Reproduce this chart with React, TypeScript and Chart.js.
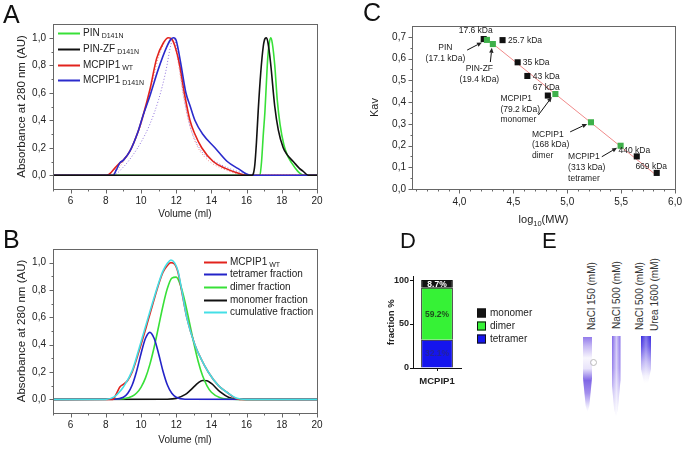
import React, { useEffect, useRef } from "react";
import { Chart, registerables } from "chart.js";

Chart.register(...registerables);

const FONT = "'Liberation Sans', Arial, Helvetica, sans-serif";
const INK = "#222";
const FRAME = "#666";
Chart.defaults.font.family = FONT;
Chart.defaults.color = INK;

// ---------------- Panel A : elution profiles ----------------
const aPinX = [5, 16.6, 16.76, 16.85, 16.95, 17.04, 17.12, 17.2, 17.3, 17.38, 17.46, 17.6, 17.74, 17.9, 18.12, 18.3, 18.56, 18.9, 19.1, 19.3, 20];
const aPinY = [0, 0, 0.005, 0.1, 0.3, 0.46, 0.66, 0.85, 0.97, 1.0, 0.96, 0.8, 0.55, 0.37, 0.22, 0.15, 0.09, 0.03, 0.008, 0, 0];
const aZfX = [5, 16.3, 16.38, 16.47, 16.56, 16.66, 16.8, 16.95, 17.05, 17.13, 17.22, 17.36, 17.6, 17.8, 18.08, 18.3, 18.65, 19.0, 19.2, 19.5, 20];
const aZfY = [0, 0, 0.01, 0.08, 0.24, 0.47, 0.74, 0.94, 0.995, 1.0, 0.96, 0.82, 0.5, 0.33, 0.2, 0.15, 0.1, 0.05, 0.03, 0, 0];
const aWtX = [5, 8.05, 8.3, 8.5, 8.8, 9.0, 9.37, 9.84, 10.13, 10.5, 10.89, 11.26, 11.55, 11.75, 11.95, 12.2, 12.46, 12.78, 13.06, 13.45, 14.1, 14.8, 15.4, 16.0, 20];
const aWtY = [0, 0, 0.02, 0.05, 0.09, 0.11, 0.175, 0.32, 0.44, 0.62, 0.85, 0.96, 1.0, 0.99, 0.93, 0.8, 0.6, 0.4, 0.3, 0.2, 0.1, 0.05, 0.02, 0, 0];
const aMutX = [5, 8.42, 8.6, 8.8, 9.0, 9.37, 9.84, 10.13, 10.5, 10.98, 11.45, 11.7, 11.85, 12.0, 12.25, 12.55, 12.8, 13.06, 13.5, 14.2, 14.9, 15.5, 16.2, 20];
const aMutY = [0, 0, 0.04, 0.09, 0.11, 0.175, 0.32, 0.44, 0.575, 0.77, 0.93, 0.99, 1.0, 0.98, 0.82, 0.6, 0.5, 0.4, 0.3, 0.2, 0.1, 0.05, 0, 0];
const aDotMutX = [5, 8.4, 9.0, 9.5, 10.0, 10.5, 11.0, 11.4, 11.7, 11.85, 12.1, 12.4, 12.7, 13.1, 13.6, 14.2, 15.0, 16.0, 16.5, 20];
const aDotMutY = [0, 0, 0.06, 0.14, 0.24, 0.37, 0.55, 0.75, 0.95, 1.0, 0.86, 0.6, 0.4, 0.25, 0.15, 0.1, 0.05, 0.01, 0, 0];
const aDotWtX = [5, 8.2, 9.0, 10.0, 10.5, 11.0, 11.4, 11.7, 12.0, 12.4, 12.8, 13.2, 13.8, 14.6, 15.5, 16.0, 20];
const aDotWtY = [0, 0, 0.1, 0.37, 0.6, 0.86, 0.98, 1.0, 0.9, 0.58, 0.35, 0.21, 0.11, 0.05, 0.01, 0, 0];

// ---------------- Panel B : deconvolution ----------------
const bWtX = [5, 8.4, 8.6, 8.8, 9.0, 9.25, 9.5, 10.0, 10.5, 11.0, 11.25, 11.5, 11.7, 11.9, 12.1, 12.3, 12.6, 13.06, 13.4, 13.82, 14.4, 14.9, 15.2, 15.6, 20];
const bWtY = [0, 0, 0.04, 0.09, 0.11, 0.14, 0.2, 0.4, 0.62, 0.84, 0.93, 0.98, 1.0, 0.99, 0.93, 0.8, 0.6, 0.4, 0.3, 0.2, 0.1, 0.05, 0.02, 0, 0];
const bTetX = [5, 8.5, 9.0, 9.25, 9.5, 9.75, 10.0, 10.25, 10.5, 10.75, 11.0, 11.25, 11.5, 11.75, 12.0, 12.5, 20];
const bTetY = [0, 0.001, 0.015, 0.044, 0.105, 0.206, 0.334, 0.445, 0.49, 0.445, 0.334, 0.206, 0.105, 0.044, 0.015, 0.001, 0];
const bDimX = [5, 8.5, 9.0, 9.5, 9.75, 10.0, 10.25, 10.5, 10.75, 11.0, 11.25, 11.5, 11.75, 12.0, 12.25, 12.5, 12.75, 13.0, 13.25, 13.5, 13.75, 14.0, 14.5, 15.0, 15.5, 20];
const bDimY = [0, 0.001, 0.004, 0.022, 0.046, 0.088, 0.155, 0.254, 0.383, 0.533, 0.685, 0.812, 0.887, 0.894, 0.832, 0.713, 0.565, 0.412, 0.277, 0.172, 0.099, 0.052, 0.011, 0.002, 0, 0];
const bMonX = [5, 11.5, 12.0, 12.5, 12.75, 13.0, 13.25, 13.5, 13.75, 14.0, 14.5, 15.0, 15.5, 16.0, 20];
const bMonY = [0, 0.001, 0.007, 0.034, 0.06, 0.091, 0.121, 0.138, 0.136, 0.116, 0.054, 0.014, 0.002, 0, 0];
const bCumX = [5, 8.0, 8.5, 8.75, 9.0, 9.5, 10.0, 10.5, 11.0, 11.25, 11.5, 11.7, 11.9, 12.1, 12.3, 12.6, 13.06, 13.4, 13.82, 14.4, 14.9, 15.4, 16.0, 20];
const bCumY = [0, 0, 0.02, 0.05, 0.09, 0.21, 0.42, 0.64, 0.85, 0.94, 0.995, 1.02, 1.0, 0.94, 0.81, 0.6, 0.4, 0.3, 0.2, 0.1, 0.05, 0.01, 0, 0];

const abXTicks = [6, 8, 10, 12, 14, 16, 18, 20];
const abXMinor = [5, 7, 9, 11, 13, 15, 17, 19];
const abYTicks = [0, 0.2, 0.4, 0.6, 0.8, 1.0];
const abYMinor = [0.1, 0.3, 0.5, 0.7, 0.9];

// ---------------- Panel C : calibration ----------------
const cStdLabels = ["17.6 kDa", "25.7 kDa", "35 kDa", "43 kDa", "67 kDa", "440 kDa", "669 kDa"];
const cStdLogMW = [4.225, 4.4, 4.54, 4.63, 4.82, 5.645, 5.83];
const cStdKav = [0.69, 0.685, 0.583, 0.52, 0.43, 0.15, 0.074];
const cSampleLabels = [["PIN", "(17.1 kDa)"], ["PIN-ZF", "(19.4 kDa)"], ["MCPIP1", "(79.2 kDa)", "monomer"], ["MCPIP1", "(168 kDa)", "dimer"], ["MCPIP1", "(313 kDa)", "tetramer"]];
const cSampleLogMW = [4.255, 4.31, 4.89, 5.22, 5.495];
const cSampleKav = [0.686, 0.667, 0.437, 0.307, 0.199];
const cFitX = [4.25, 5.82];
const cFitY = [0.692, 0.066];
const cXTicks = [4.0, 4.5, 5.0, 5.5, 6.0];
const cXMinor = [3.6, 3.7, 3.8, 3.9, 4.1, 4.2, 4.3, 4.4, 4.6, 4.7, 4.8, 4.9, 5.1, 5.2, 5.3, 5.4, 5.6, 5.7, 5.8, 5.9];
const cYTicks = [0, 0.1, 0.2, 0.3, 0.4, 0.5, 0.6, 0.7];
const cYMinor = [0.05, 0.15, 0.25, 0.35, 0.45, 0.55, 0.65];

// ---------------- Panel D : fractions ----------------
const dCategories = ["MCPIP1"];
const dTetramer = [32.1];
const dDimer = [59.2];
const dMonomer = [8.7];
const dYTicks = [0, 50, 100];

// ---------------- helpers ----------------
const pts = (xs: number[], ys: number[]) => xs.map((x, i) => ({ x, y: ys[i] }));
const comma = (v: number) => v.toFixed(1).replace(".", ",");
const fixedTicks = (vals: number[]) => (scale: any) => {
  scale.ticks = vals.map((v) => ({ value: v }));
};

function curve(label: string, xs: number[], ys: number[], color: string, order: number, dotted = false) {
  return {
    label,
    data: pts(xs, ys),
    borderColor: color,
    borderWidth: dotted ? 1 : 1.6,
    borderDash: dotted ? [1, 2] : [],
    pointRadius: 0,
    fill: false,
    cubicInterpolationMode: "monotone",
    order,
  };
}

function framePlugin(xMajor: number[], xMinor: number[], yMajor: number[], yMinor: number[]) {
  return {
    id: "frameTicks",
    afterDraw(chart: any) {
      const { ctx, chartArea: a } = chart;
      const sx = chart.scales.x;
      const sy = chart.scales.y;
      const L = Math.round(a.left) + 0.5;
      const T = Math.round(a.top) + 0.5;
      const R = Math.round(a.right) + 0.5;
      const B = Math.round(a.bottom) + 0.5;
      ctx.save();
      ctx.strokeStyle = FRAME;
      ctx.lineWidth = 1;
      ctx.strokeRect(L, T, R - L, B - T);
      ctx.beginPath();
      const xt = (v: number, len: number) => {
        const p = Math.round(sx.getPixelForValue(v)) + 0.5;
        ctx.moveTo(p, B);
        ctx.lineTo(p, B + len);
      };
      const yt = (v: number, len: number) => {
        const p = Math.round(sy.getPixelForValue(v)) + 0.5;
        ctx.moveTo(L, p);
        ctx.lineTo(L - len, p);
      };
      xMajor.forEach((v) => xt(v, 4));
      xMinor.forEach((v) => xt(v, 2));
      yMajor.forEach((v) => yt(v, 4));
      yMinor.forEach((v) => yt(v, 2));
      ctx.stroke();
      ctx.restore();
    },
  };
}

type LegItem = { text: string; sub?: string; color: string };
function lineLegend(items: LegItem[], x0: number, x1: number, tx: number, y0: number, dy: number) {
  return {
    id: "lineLegend",
    afterDraw(chart: any) {
      const ctx = chart.ctx;
      ctx.save();
      items.forEach((it, i) => {
        const y = Math.round(y0 + i * dy) + 0.5;
        ctx.strokeStyle = it.color;
        ctx.lineWidth = 2;
        ctx.beginPath();
        ctx.moveTo(x0, y);
        ctx.lineTo(x1, y);
        ctx.stroke();
        ctx.fillStyle = INK;
        ctx.textAlign = "left";
        ctx.textBaseline = "middle";
        ctx.font = `10px ${FONT}`;
        ctx.fillText(it.text, tx, y);
        if (it.sub) {
          const w = ctx.measureText(it.text).width;
          ctx.font = `7px ${FONT}`;
          ctx.fillText(it.sub, tx + w + 2, y + 3);
        }
      });
      ctx.restore();
    },
  };
}

function xAxisAB(height: number, titlePad: number) {
  return {
    type: "linear",
    min: 5,
    max: 20,
    afterBuildTicks: fixedTicks(abXTicks),
    afterFit: (s: any) => {
      s.height = height;
    },
    grid: { display: false, tickLength: 4 },
    border: { display: false },
    ticks: { font: { size: 10 }, color: INK, padding: 2, autoSkip: false, maxRotation: 0, callback: (v: number) => String(v) },
    title: { display: true, text: "Volume (ml)", font: { size: 10 }, color: INK, padding: { top: 0, bottom: titlePad } },
  };
}

function yAxisAB() {
  return {
    type: "linear",
    min: -0.1,
    max: 1.1,
    afterBuildTicks: fixedTicks(abYTicks),
    afterFit: (s: any) => {
      s.width = 53;
    },
    grid: { display: false, tickLength: 4 },
    border: { display: false },
    ticks: { font: { size: 10 }, color: INK, padding: 3, autoSkip: false, callback: (v: number) => comma(v) },
    title: { display: true, text: "Absorbance at 280 nm (AU)", font: { size: 11.5 }, color: INK, padding: { top: 15, bottom: 0 } },
  };
}

const baseOpts = {
  responsive: false,
  animation: false,
  devicePixelRatio: 1,
  plugins: { legend: { display: false }, tooltip: { enabled: false } },
};

// ---------------- chart factories ----------------
const aSeries = [
  { text: "PIN", sub: "D141N", color: "#38e038" },
  { text: "PIN-ZF", sub: "D141N", color: "#111111" },
  { text: "MCPIP1", sub: "WT", color: "#e2231d" },
  { text: "MCPIP1", sub: "D141N", color: "#2b2bcc" },
];

function makeA(): any {
  return {
    type: "line",
    data: {
      datasets: [
        curve("PIN-ZF D141N", aZfX, aZfY, aSeries[1].color, 0),
        curve("MCPIP1 D141N", aMutX, aMutY, aSeries[3].color, 1),
        curve("MCPIP1 WT", aWtX, aWtY, aSeries[2].color, 2),
        curve("PIN D141N", aPinX, aPinY, aSeries[0].color, 3),
        curve("MCPIP1 D141N (dotted)", aDotMutX, aDotMutY, "#8f72dc", 4, true),
        curve("MCPIP1 WT (dotted)", aDotWtX, aDotWtY, "#f08c8c", 5, true),
      ],
    },
    options: {
      ...baseOpts,
      layout: { padding: { left: 0, top: 24, right: 13, bottom: 0 } },
      scales: { x: xAxisAB(31, 0), y: yAxisAB() },
    },
    plugins: [framePlugin(abXTicks, abXMinor, abYTicks, abYMinor), lineLegend(aSeries, 58, 80, 83, 33.3, 15.6)],
  };
}

const bSeries = [
  { text: "MCPIP1", sub: "WT", color: "#e2231d" },
  { text: "tetramer fraction", color: "#2323c8" },
  { text: "dimer fraction", color: "#38e038" },
  { text: "monomer fraction", color: "#111111" },
  { text: "cumulative fraction", color: "#44dfe6" },
];

function makeB(): any {
  return {
    type: "line",
    data: {
      datasets: [
        curve("cumulative fraction", bCumX, bCumY, bSeries[4].color, 0),
        curve("MCPIP1 WT", bWtX, bWtY, bSeries[0].color, 1),
        curve("tetramer fraction", bTetX, bTetY, bSeries[1].color, 2),
        curve("dimer fraction", bDimX, bDimY, bSeries[2].color, 3),
        curve("monomer fraction", bMonX, bMonY, bSeries[3].color, 4),
      ],
    },
    options: {
      ...baseOpts,
      layout: { padding: { left: 0, top: 29, right: 13, bottom: 0 } },
      scales: { x: xAxisAB(36, 3), y: yAxisAB() },
    },
    plugins: [framePlugin(abXTicks, abXMinor, abYTicks, abYMinor), lineLegend(bSeries, 204, 227, 230, 41.7, 12.65)],
  };
}

// annotation layout for panel C (pixel offsets from the point)
const cStdNoteLayout = [
  { dx: -8, dy: -8, align: "center" },
  { dx: 5.5, dy: 0.7, align: "left" },
  { dx: 5, dy: 0, align: "left" },
  { dx: 5.5, dy: 0.5, align: "left" },
  { dx: -1.5, dy: -7.5, align: "center" },
  { dx: -2.5, dy: -5.5, align: "center" },
  { dx: -5.5, dy: -6.5, align: "center" },
];
const cSampleNoteLayout = [
  { dx: -41.5, dy: 8, lh: 10.6, align: "center", a0: [-19.8, 10.2], a1: [-5, 2.5] },
  { dx: -13.5, dy: 24.6, lh: 11.5, align: "center", a0: [-2.5, 18], a1: [-1, 3.8] },
  { dx: -55, dy: 4.5, lh: 10.8, align: "left", a0: [-17, 21], a1: [-3.6, 3] },
  { dx: -59, dy: 12, lh: 10.5, align: "left", a0: [-20.8, 9.6], a1: [-3.8, 1.6] },
  { dx: -52.5, dy: 11, lh: 11, align: "left", a0: [-18.8, 11], a1: [-3.5, 2] },
];

function arrow(ctx: any, x0: number, y0: number, x1: number, y1: number) {
  const ang = Math.atan2(y1 - y0, x1 - x0);
  const hl = 5;
  const hw = 2.2;
  const bx = x1 - hl * Math.cos(ang);
  const by = y1 - hl * Math.sin(ang);
  ctx.beginPath();
  ctx.moveTo(x0, y0);
  ctx.lineTo(bx, by);
  ctx.stroke();
  ctx.beginPath();
  ctx.moveTo(x1, y1);
  ctx.lineTo(bx + hw * Math.sin(ang), by - hw * Math.cos(ang));
  ctx.lineTo(bx - hw * Math.sin(ang), by + hw * Math.cos(ang));
  ctx.closePath();
  ctx.fill();
}

const cNotesPlugin = {
  id: "cNotes",
  afterDraw(chart: any) {
    const { ctx, chartArea: a } = chart;
    const sx = chart.scales.x;
    const sy = chart.scales.y;
    ctx.save();
    ctx.fillStyle = INK;
    ctx.strokeStyle = "#111";
    ctx.lineWidth = 1;
    ctx.textBaseline = "middle";
    ctx.font = `8.5px ${FONT}`;
    cStdLabels.forEach((t, i) => {
      const L = cStdNoteLayout[i];
      const px = sx.getPixelForValue(cStdLogMW[i]);
      const py = sy.getPixelForValue(cStdKav[i]);
      ctx.textAlign = L.align;
      ctx.fillText(t, px + L.dx, py + L.dy);
    });
    cSampleLabels.forEach((lines, i) => {
      const L = cSampleNoteLayout[i];
      const px = sx.getPixelForValue(cSampleLogMW[i]);
      const py = sy.getPixelForValue(cSampleKav[i]);
      ctx.textAlign = L.align;
      lines.forEach((t, j) => ctx.fillText(t, px + L.dx, py + L.dy + j * L.lh));
      arrow(ctx, px + L.a0[0], py + L.a0[1], px + L.a1[0], py + L.a1[1]);
    });
    // x axis title with subscript
    const cx = (a.left + a.right) / 2;
    const cy = 220;
    ctx.font = `11px ${FONT}`;
    const w1 = ctx.measureText("log").width;
    const w3 = ctx.measureText("(MW)").width;
    ctx.font = `7.5px ${FONT}`;
    const w2 = ctx.measureText("10").width;
    const start = cx - (w1 + w2 + w3) / 2;
    ctx.textAlign = "left";
    ctx.font = `11px ${FONT}`;
    ctx.fillText("log", start, cy);
    ctx.fillText("(MW)", start + w1 + w2, cy);
    ctx.font = `7.5px ${FONT}`;
    ctx.fillText("10", start + w1, cy + 3.5);
    ctx.restore();
  },
};

function makeC(): any {
  return {
    type: "scatter",
    data: {
      datasets: [
        {
          label: "samples",
          data: pts(cSampleLogMW, cSampleKav),
          pointStyle: "rect",
          pointRadius: 4.3,
          backgroundColor: "#3fb04a",
          borderColor: "#3fb04a",
          borderWidth: 0,
          order: 0,
        },
        {
          label: "standards",
          data: pts(cStdLogMW, cStdKav),
          pointStyle: "rect",
          pointRadius: 4.3,
          backgroundColor: "#111",
          borderColor: "#111",
          borderWidth: 0,
          order: 1,
        },
        {
          label: "fit",
          data: pts(cFitX, cFitY),
          showLine: true,
          pointRadius: 0,
          borderColor: "#f08a8a",
          borderWidth: 1,
          order: 2,
        },
      ],
    },
    options: {
      ...baseOpts,
      layout: { padding: { left: 0, top: 26, right: 9, bottom: 0 } },
      scales: {
        x: {
          type: "linear",
          min: 3.56,
          max: 6.0,
          afterBuildTicks: fixedTicks(cXTicks),
          afterFit: (s: any) => {
            s.height = 41;
          },
          grid: { display: false, tickLength: 4 },
          border: { display: false },
          ticks: { font: { size: 10 }, color: INK, padding: 3, autoSkip: false, maxRotation: 0, callback: (v: number) => comma(v) },
        },
        y: {
          type: "linear",
          min: 0,
          max: 0.75,
          afterBuildTicks: fixedTicks(cYTicks),
          afterFit: (s: any) => {
            s.width = 52;
          },
          grid: { display: false, tickLength: 4 },
          border: { display: false },
          ticks: { font: { size: 10 }, color: INK, padding: 2, autoSkip: false, callback: (v: number) => comma(v) },
          title: { display: true, text: "Kav", font: { size: 11 }, color: INK, padding: { top: 8, bottom: 0 } },
        },
      },
    },
    plugins: [framePlugin(cXTicks, cXMinor, cYTicks, cYMinor), cNotesPlugin],
  };
}

const dSeries = [
  { label: "tetramer", data: dTetramer, color: "#1515ee", textColor: "#23239a" },
  { label: "dimer", data: dDimer, color: "#36f236", textColor: "#1d4f1d" },
  { label: "monomer", data: dMonomer, color: "#141414", textColor: "#ffffff" },
];

const dPlugin = {
  id: "dDecor",
  afterDatasetsDraw(chart: any) {
    const ctx = chart.ctx;
    ctx.save();
    ctx.textAlign = "center";
    ctx.textBaseline = "middle";
    ctx.font = `bold 8.5px ${FONT}`;
    dSeries.forEach((s, i) => {
      const meta = chart.getDatasetMeta(i);
      meta.data.forEach((el: any, j: number) => {
        ctx.fillStyle = s.textColor;
        ctx.fillText(s.data[j].toFixed(1) + "%", el.x, (el.y + el.base) / 2 + 0.5);
      });
    });
    // legend (monomer, dimer, tetramer from top)
    const order = [2, 1, 0];
    order.forEach((idx, k) => {
      const y = 77 + k * 13;
      ctx.fillStyle = dSeries[idx].color;
      ctx.fillRect(107, y - 4.5, 9, 9);
      ctx.strokeStyle = "#111";
      ctx.lineWidth = 1;
      ctx.strokeRect(107.5, y - 4, 8, 8);
      ctx.fillStyle = INK;
      ctx.textAlign = "left";
      ctx.font = `10px ${FONT}`;
      ctx.fillText(dSeries[idx].label, 120, y);
    });
    ctx.restore();
  },
};

function makeD(): any {
  return {
    type: "bar",
    data: {
      labels: dCategories,
      datasets: dSeries.map((s) => ({
        label: s.label,
        data: s.data,
        backgroundColor: s.color,
        borderColor: "#111",
        borderWidth: 1,
        barPercentage: 1,
        categoryPercentage: 0.66,
      })),
    },
    options: {
      ...baseOpts,
      layout: { padding: { left: 0, top: 40.5, right: 89, bottom: 0 } },
      scales: {
        x: {
          stacked: true,
          afterFit: (s: any) => {
            s.height = 30;
          },
          grid: { display: true, drawOnChartArea: false, offset: false, tickLength: 3, color: "#111" },
          border: { display: true, color: "#111" },
          ticks: { font: { size: 9.5, weight: "bold" }, color: INK, padding: 5 },
        },
        y: {
          stacked: true,
          min: 0,
          max: 104,
          afterBuildTicks: fixedTicks(dYTicks),
          afterFit: (s: any) => {
            s.width = 43;
          },
          grid: { display: true, drawOnChartArea: false, tickLength: 3, color: "#111" },
          border: { display: true, color: "#111" },
          ticks: { font: { size: 9, weight: "bold" }, color: INK, padding: 1, autoSkip: false },
          title: { display: true, text: "fraction %", font: { size: 9.5, weight: "bold" }, color: INK, padding: { top: 16, bottom: 0 } },
        },
      },
    },
    plugins: [dPlugin],
  };
}

// ---------------- components ----------------
function ChartBox(props: { left: number; top: number; width: number; height: number; make: () => any }) {
  const ref = useRef<HTMLCanvasElement>(null);
  useEffect(() => {
    const chart = new Chart(ref.current as HTMLCanvasElement, props.make());
    return () => chart.destroy();
  }, []);
  return (
    <canvas
      ref={ref}
      width={props.width}
      height={props.height}
      style={{ position: "absolute", left: props.left, top: props.top, width: props.width, height: props.height }}
    />
  );
}

function Letter(props: { ch: string; left: number; top: number; size?: number }) {
  return (
    <div style={{ position: "absolute", left: props.left, top: props.top, fontSize: props.size || 25, lineHeight: `${props.size || 25}px`, color: "#111" }}>
      {props.ch}
    </div>
  );
}

function VText(props: { text: string; cx: number; bottom: number }) {
  return (
    <div
      style={{
        position: "absolute",
        left: props.cx - 6,
        top: props.bottom,
        fontSize: 10,
        lineHeight: "12px",
        whiteSpace: "nowrap",
        color: "#333",
        transformOrigin: "0 0",
        transform: "rotate(-90deg)",
      }}
    >
      {props.text}
    </div>
  );
}

const taper = "polygon(0 0, 100% 0, 100% 55%, 70% 92%, 50% 100%, 30% 92%, 0 55%)";

function Gel() {
  return (
    <>
      <VText text="NaCl 150 (mM)" cx={591.5} bottom={330} />
      <VText text="NaCl 500 (mM)" cx={616.5} bottom={329} />
      <VText text="NaCl 500 (mM)" cx={640} bottom={330} />
      <VText text="Urea 1600 (mM)" cx={655} bottom={331} />
      <div
        style={{
          position: "absolute",
          left: 583,
          top: 337,
          width: 9,
          height: 75,
          clipPath: taper,
          background:
            "linear-gradient(to bottom, rgba(120,90,230,0.8) 0%, rgba(150,125,235,0.55) 12%, rgba(235,230,250,0.35) 28%, rgba(205,195,245,0.45) 42%, rgba(105,75,225,0.85) 58%, rgba(125,95,230,0.7) 75%, rgba(195,185,245,0.35) 92%, rgba(255,255,255,0) 100%)",
        }}
      />
      <div style={{ position: "absolute", left: 590, top: 359, width: 5, height: 5, border: "1px solid #bbb", borderRadius: "50%" }} />
      <div
        style={{
          position: "absolute",
          left: 611.5,
          top: 336,
          width: 9,
          height: 80,
          clipPath: taper,
          background:
            "linear-gradient(to right, rgba(255,255,255,0) 0%, rgba(255,255,255,0.65) 50%, rgba(255,255,255,0) 100%), linear-gradient(to bottom, rgba(105,75,228,0.85) 0%, rgba(115,85,230,0.75) 40%, rgba(150,130,235,0.5) 70%, rgba(225,220,250,0.2) 100%)",
        }}
      />
      <div
        style={{
          position: "absolute",
          left: 641,
          top: 336,
          width: 10,
          height: 47,
          clipPath: "polygon(0 0, 100% 0, 100% 70%, 70% 100%, 30% 100%, 0 70%)",
          background:
            "linear-gradient(to right, rgba(255,255,255,0) 0%, rgba(255,255,255,0.35) 50%, rgba(255,255,255,0) 100%), linear-gradient(to bottom, rgba(45,30,220,0.95) 0%, rgba(65,45,225,0.85) 22%, rgba(120,100,232,0.55) 55%, rgba(200,190,245,0.25) 85%, rgba(255,255,255,0) 100%)",
        }}
      />
    </>
  );
}

export default function App() {
  return (
    <div
      style={{
        position: "absolute",
        left: 0,
        top: 0,
        width: 685,
        height: 449,
        background: "#fff",
        overflow: "hidden",
        fontFamily: FONT,
      }}
    >
      <ChartBox left={0} top={0} width={330} height={220} make={makeA} />
      <ChartBox left={0} top={220} width={330} height={229} make={makeB} />
      <ChartBox left={360} top={0} width={325} height={230} make={makeC} />
      <ChartBox left={370} top={236} width={180} height={162} make={makeD} />
      <Gel />
      <Letter ch="A" left={3} top={2} />
      <Letter ch="B" left={3} top={227} />
      <Letter ch="C" left={363} top={0} />
      <Letter ch="D" left={400} top={230} size={22} />
      <Letter ch="E" left={542} top={230} size={22} />
    </div>
  );
}
